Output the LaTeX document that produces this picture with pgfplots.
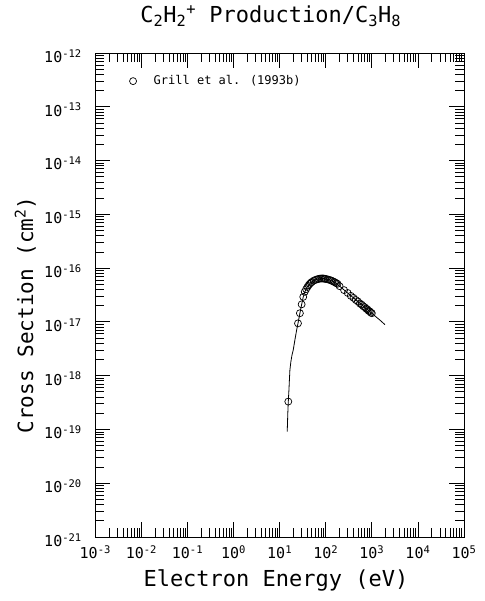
\documentclass[border=0pt]{standalone}
\usepackage{fontspec}
\setmainfont{DejaVu Sans Mono}
\usepackage{pgfplots}
\pgfplotsset{compat=1.18}
\begin{document}
\begin{tikzpicture}
\useasboundingbox (-95.3pt,-64pt) rectangle (388.7pt,537pt);
\begin{axis}[
  at={(0,0)}, anchor=south west,
  scale only axis, width=368.7pt, height=484pt,
  xmode=log, ymode=log,
  xmin=1e-3, xmax=1e5, ymin=1e-21, ymax=1e-12,
  axis line style={line width=0.8pt},
  tick style={line width=0.8pt, black},
  tick align=inside, xtick pos=both, ytick pos=both,
  major tick length=15pt, minor tick length=9pt,
  xtick={1e-3,1e-2,1e-1,1,1e1,1e2,1e3,1e4,1e5},
  xticklabels={10\textsuperscript{-3},10\textsuperscript{-2},10\textsuperscript{-1},10\textsuperscript{0},10\textsuperscript{1},10\textsuperscript{2},10\textsuperscript{3},10\textsuperscript{4},10\textsuperscript{5}},
  ytick={1e-21,1e-20,1e-19,1e-18,1e-17,1e-16,1e-15,1e-14,1e-13,1e-12},
  yticklabels={10\textsuperscript{-21},10\textsuperscript{-20},10\textsuperscript{-19},10\textsuperscript{-18},10\textsuperscript{-17},10\textsuperscript{-16},10\textsuperscript{-15},10\textsuperscript{-14},10\textsuperscript{-13},10\textsuperscript{-12}},
  ticklabel style={font=\fontsize{15}{15}\selectfont},
  xticklabel style={yshift=-5pt},
  yticklabel style={xshift=-10pt, yshift=-3pt},
  title={C\textsubscript{2}H\textsubscript{2}\textsuperscript{+} Production/C\textsubscript{3}H\textsubscript{8}},
  title style={at={(axis description cs:0.476,1.064)}, anchor=center, font=\fontsize{22}{22}\selectfont},
  xlabel={Electron Energy (eV)},
  xlabel style={at={(axis description cs:0.49,-0.089)}, anchor=center, font=\fontsize{22}{22}\selectfont},
  ylabel={Cross Section (cm\textsuperscript{2})},
  ylabel style={at={(axis description cs:-0.19,0.459)}, anchor=center, font=\fontsize{21}{21}\selectfont},
  clip=false,
]
\addplot[black, line width=0.8pt, no marks] coordinates {
(14.6,9.1e-20) (15.0,1.9e-19) (15.4,3.3e-19) (15.9,5.4e-19) (16.3,8.5e-19) (16.7,1.28e-18) (17.5,1.8e-18) (18.5,2.4e-18) (19.7,3.0e-18) (21.5,4.7e-18) (23.4,7.1e-18) (25,9.4e-18) (27.5,1.45e-17) (30,2.1e-17) (32.5,2.9e-17) (35,3.6e-17) (40,4.5e-17) (45,5.1e-17) (50,5.55e-17) (60,6.05e-17) (70,6.3e-17) (80,6.4e-17) (90,6.4e-17) (100,6.3e-17) (120,6.05e-17) (150,5.58e-17) (200,4.62e-17) (300,3.44e-17) (500,2.38e-17) (700,1.87e-17) (1000,1.44e-17) (1500,1.08e-17) (1925,8.9e-18)
};
\addplot[black, only marks, mark=o, mark size=3.5pt, mark options={line width=0.7pt}] coordinates {
(15.4,3.3e-19) (25,9.4e-18) (27.5,1.45e-17) (30,2.12e-17) (32.5,2.92e-17) (35,3.62e-17)
(37.5,4.05e-17) (40,4.45e-17) (42.5,4.8e-17) (45,5.1e-17) (47.5,5.35e-17) (50,5.55e-17)
(55,5.85e-17) (60,6.05e-17) (65,6.2e-17) (70,6.3e-17) (75,6.38e-17) (80,6.42e-17)
(85,6.42e-17) (90,6.4e-17) (95,6.35e-17) (100,6.3e-17) (110,6.18e-17) (120,6.05e-17)
(130,5.9e-17) (140,5.75e-17) (150,5.58e-17) (160,5.42e-17) (170,5.25e-17) (180,5.1e-17)
(200,4.62e-17) (250,3.9e-17) (300,3.45e-17) (350,3.05e-17) (400,2.8e-17) (450,2.55e-17)
(500,2.4e-17) (550,2.2e-17) (600,2.1e-17) (650,1.96e-17) (700,1.88e-17) (750,1.77e-17)
(800,1.71e-17) (850,1.61e-17) (900,1.57e-17) (950,1.49e-17) (1000,1.45e-17)
};
\addplot[black, only marks, mark=o, mark size=3.5pt, mark options={line width=0.7pt}] coordinates {(0.0066,3.0e-13)};
\node[anchor=west, font=\fontsize{12}{12}\selectfont] at (axis cs:0.0155,3.0e-13) {Grill et al. (1993b)};
\end{axis}
\end{tikzpicture}
\end{document}
